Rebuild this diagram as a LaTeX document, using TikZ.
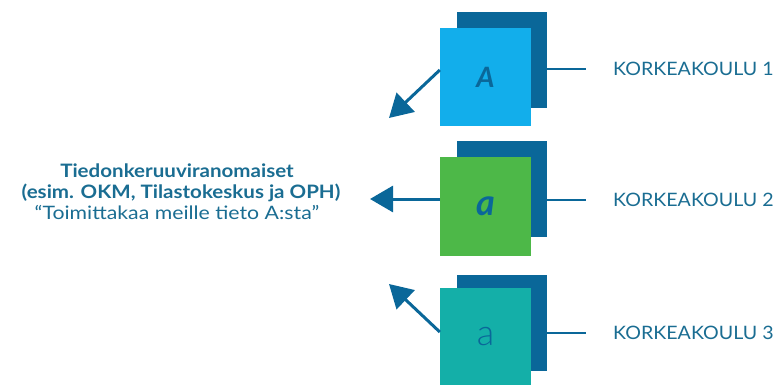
\documentclass[tikz,border=0pt]{standalone}
\usepackage{fontspec}
\setmainfont{Lato}
\newfontfamily\headfont[FakeStretch=1.11]{Lato}
\newfontfamily\quotefont[FakeStretch=1.15]{Lato}
\newfontfamily\schoolfont[FakeStretch=1.06]{Lato}
\newfontfamily\thinfont{Lato Light}
\usetikzlibrary{arrows.meta,calc}
\definecolor{deep}{HTML}{0A6799}
\definecolor{inktext}{HTML}{1A6D92}
\definecolor{skyblue}{HTML}{12AEEB}
\definecolor{leaf}{HTML}{4DB848}
\definecolor{teal2}{HTML}{14AFA8}
\tikzset{
  backsq/.style={fill=deep, draw=none, minimum width=90pt, minimum height=96pt, inner sep=0pt},
  frontsq/.style={draw=none, minimum width=91pt, minimum height=98pt, inner sep=0pt, text=deep},
  flow/.style={draw=deep, line width=3pt, -{Triangle[length=23pt,width=26pt]}},
  tie/.style={draw=deep, line width=2.8pt},
  school/.style={anchor=west, text=inktext, font=\schoolfont\fontsize{18.5}{20}\selectfont, inner sep=0pt},
  authline/.style={anchor=base, text=inktext, inner sep=0pt},
}
\begin{document}
\begin{tikzpicture}[x=1pt,y=-1pt]
  \useasboundingbox (0,0) rectangle (779,385);
  % stacked squares
  \node[backsq] (b1) at (502,60) {};
  \node[frontsq, fill=skyblue, font=\fontsize{28}{28}\selectfont\bfseries\itshape] (f1) at (485.5,77) {A};
  \node[backsq] (b2) at (502,189) {};
  \node[frontsq, fill=leaf, font=\fontsize{36}{36}\selectfont\bfseries\itshape] (f2) at (485.5,206.5) {a};
  \node[backsq] (b3) at (502,323) {};
  \node[frontsq, fill=teal2, font=\thinfont\fontsize{36}{36}\selectfont] (f3) at (485.5,337) {a};
  % school labels
  \node[school] (k1) at (613,69) {KORKEAKOULU 1};
  \node[school] (k2) at (613,200) {KORKEAKOULU 2};
  \node[school] (k3) at (613,333) {KORKEAKOULU 3};
  \coordinate (e1) at ($(b1.east |- k1.west)+(-1,0)$);
  \coordinate (e2) at ($(b2.east |- k2.west)+(-1,0)$);
  \coordinate (e3) at ($(b3.east |- k3.west)+(-1,0)$);
  \draw[tie] (e1) -- ($(k1.west)+(-27,0)$);
  \draw[tie] (e2) -- ($(k2.west)+(-27,0)$);
  \draw[tie] (e3) -- ($(k3.west)+(-27,0)$);
  % authority text
  \node[authline, font=\headfont\bfseries\fontsize{18.5}{20}\selectfont] (auth1) at (177,178) {Tiedonkeruuviranomaiset};
  \node[authline, font=\headfont\bfseries\fontsize{18.5}{20}\selectfont] (auth2) at (181,198) {(esim. OKM, Tilastokeskus ja OPH)};
  \node[authline, font=\quotefont\fontsize{18.5}{20}\selectfont] (auth3) at (177,219) {“Toimittakaa meille tieto A:sta”};
  % arrows toward the authorities
  \coordinate (t1) at (389,118);
  \coordinate (t2) at (370,199);
  \coordinate (t3) at (389,284);
  \draw[flow] ($(f1.west)+(0,-7)$) -- (t1);
  \draw[flow] ($(f2.west)+(0,-7.5)$) -- (t2);
  \draw[flow] ($(f3.west)+(0,-5)$) -- (t3);
\end{tikzpicture}
\end{document}
